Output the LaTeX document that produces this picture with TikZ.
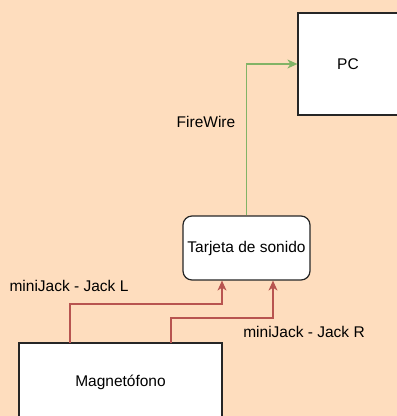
\documentclass[tikz,border=0pt]{standalone}
\usepackage{fontspec}
\setmainfont{Liberation Sans}
\usetikzlibrary{arrows.meta,calc}
\definecolor{bgpeach}{HTML}{FEDDBE}
\definecolor{redline}{HTML}{B85450}
\definecolor{greenline}{HTML}{82B366}
\begin{document}
\begin{tikzpicture}[x=1pt,y=-1pt,
  box/.style={draw=black!85,fill=white,line width=1.2pt,inner sep=0pt,font=\fontsize{15.5}{18}\selectfont},
  lbl/.style={inner sep=0pt,font=\fontsize{15.5}{18}\selectfont},
  redarrow/.style={draw=redline,line width=1.2pt,-{Stealth[length=10pt,width=9pt,inset=3pt]}},
  greenarrow/.style={draw=greenline,line width=1.2pt,-{Stealth[length=10pt,width=9pt,inset=3pt]}}]
\fill[bgpeach] (0,0) rectangle (397,416);
\useasboundingbox (0,0) rectangle (397,416);
\node[box,minimum width=100pt,minimum height=102pt] (pc) at (348,64) {PC};
\node[box,rounded corners=9pt,minimum width=127pt,minimum height=64pt] (tarj) at (246.5,248) {Tarjeta de sonido};
\node[box,minimum width=203pt,minimum height=78pt] (mag) at (120.5,382) {Magnetófono};
\coordinate (l0) at (70,343);
\coordinate (l1) at (70,304);
\coordinate (l2) at (222,304);
\coordinate (r0) at (171,343);
\coordinate (r1) at (171,318);
\coordinate (r2) at (273,318);
\draw[redarrow] (l0) -- (l1) -- (l2) -- (l2 |- tarj.south);
\draw[redarrow] (r0) -- (r1) -- (r2) -- (r2 |- tarj.south);
\draw[greenarrow] (tarj.north) |- (pc.west);
\node[lbl] (fw) at (206,122) {FireWire};
\node[lbl] (jl) at (69,286) {miniJack - Jack L};
\node[lbl] (jr) at (304,332) {miniJack - Jack R};
\end{tikzpicture}
\end{document}
